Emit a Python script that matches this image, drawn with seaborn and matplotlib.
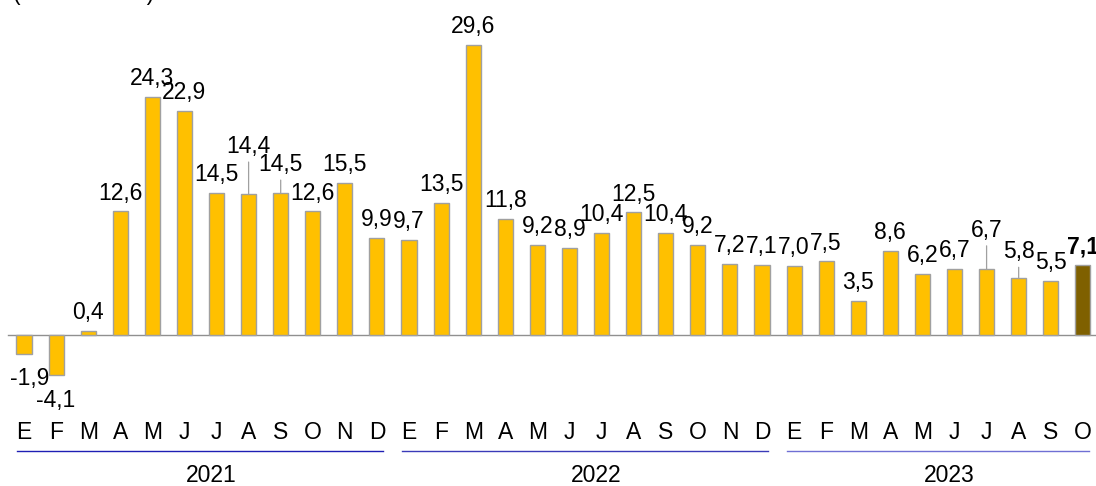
import matplotlib
matplotlib.use("Agg")
import matplotlib.pyplot as plt
import seaborn as sns
import pandas as pd

# monthly values, Jan 2021 - Oct 2023
years = ["2021", "2022", "2023"]
months = ["E", "F", "M", "A", "M", "J", "J", "A", "S", "O", "N", "D"]
vals_2021 = [-1.9, -4.1, 0.4, 12.6, 24.3, 22.9, 14.5, 14.4, 14.5, 12.6, 15.5, 9.9]
vals_2022 = [9.7, 13.5, 29.6, 11.8, 9.2, 8.9, 10.4, 12.5, 10.4, 9.2, 7.2, 7.1]
vals_2023 = [7.0, 7.5, 3.5, 8.6, 6.2, 6.7, 6.7, 5.8, 5.5, 7.1]

values = vals_2021 + vals_2022 + vals_2023
month_labels = months * 2 + months[:len(vals_2023)]
periods = [f"{y}-{m:02d}" for y, n in zip(years, [12, 12, len(vals_2023)]) for m in range(1, n + 1)]
df = pd.DataFrame({"period": periods, "value": values})

colors = ["#FFC000"] * (len(values) - 1) + ["#7F6000"]

# labels raised with a leader line (extra gap in points)
lifted = {7: 29.5, 8: 15.8, 30: 23.5, 31: 14.4}

plt.rcParams["font.family"] = ["Liberation Sans", "DejaVu Sans"]
fs = 16.5
fig = plt.figure(figsize=(10.96, 4.86), dpi=100)
ax = fig.add_axes([0, 0, 1, 1])

sns.barplot(data=df, x="period", y="value", hue="period", palette=colors,
            legend=False, width=0.47, saturation=1, edgecolor="#A0A0A0",
            linewidth=1, ax=ax)

ax.set_xlim(-0.748, 33.41)
ax.set_ylim(-15.41, 34.18)
ax.axis("off")
ax.axhline(0, xmin=0.0073, xmax=1, color="#909090", lw=1, zorder=0.5)

for i, v in enumerate(values):
    txt = f"{v:.1f}".replace(".", ",")
    bold = i == len(values) - 1
    if v < 0:
        dx = 4 if i == 0 else 0
        ax.annotate(txt, (i, v), xytext=(dx, -10), textcoords="offset points",
                    ha="center", va="top", fontsize=fs)
    elif i in lifted:
        ax.annotate(txt, (i, v), xytext=(0, lifted[i]), textcoords="offset points",
                    ha="center", va="baseline", fontsize=fs,
                    arrowprops=dict(arrowstyle="-", color="#A0A0A0", lw=0.9,
                                    shrinkA=1, shrinkB=0))
    else:
        ax.annotate(txt, (i, v), xytext=(0, 8.6), textcoords="offset points",
                    ha="center", va="baseline", fontsize=fs,
                    fontweight="bold" if bold else "normal")

for i, m in enumerate(month_labels):
    ax.text(i, -10.0, m, ha="center", va="center", fontsize=fs)

line_colors = ["#1F1FB4", "#3A3AB8", "#6F6FD4"]
start = 0
for y, n, c in zip(years, [12, 12, len(vals_2023)], line_colors):
    end = start + n - 1
    ax.plot([start - 0.22, end + 0.2], [-11.84, -11.84], color=c, lw=1)
    ax.text((start + end) / 2 + 0.33, -14.3, y,
            ha="center", va="center", fontsize=fs)
    start += n

ax.text(-0.343, 34.13, "(var. % anual)", ha="left", va="baseline",
        fontsize=fs, clip_on=False)

fig.savefig("out.png", dpi=100)
